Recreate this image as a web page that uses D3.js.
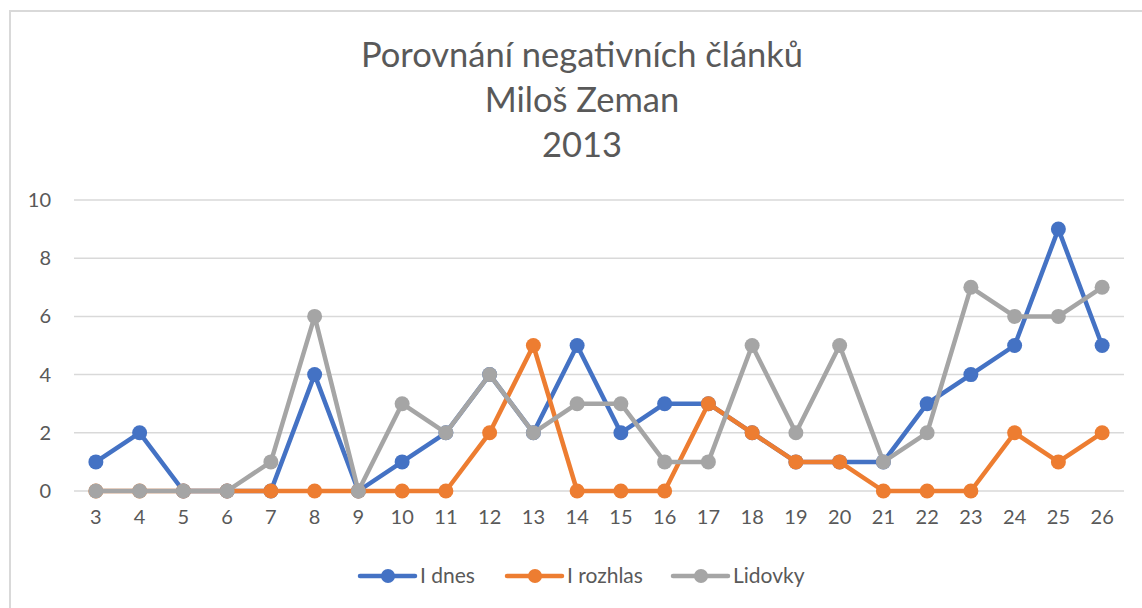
<!DOCTYPE html>
<html>
<head>
<meta charset="utf-8">
<script src="https://cdn.jsdelivr.net/npm/d3@7"></script>
<style>
  html, body { margin: 0; padding: 0; background: #fff; }
  svg { display: block; font-family: Lato, "Open Sans", sans-serif; }
</style>
</head>
<body>
<svg id="chart" width="1142" height="608"></svg>
<script>
const categories = ["3","4","5","6","7","8","9","10","11","12","13","14","15","16","17","18","19","20","21","22","23","24","25","26"];
const idnes    = [1,2,0,0,0,4,0,1,2,4,2,5,2,3,3,2,1,1,1,3,4,5,9,5];
const irozhlas = [0,0,0,0,0,0,0,0,0,2,5,0,0,0,3,2,1,1,0,0,0,2,1,2];
const lidovky  = [0,0,0,0,1,6,0,3,2,4,2,3,3,1,1,5,2,5,1,2,7,6,6,7];
const seriesNames = ["I dnes", "I rozhlas", "Lidovky"];
const seriesColors = ["#4472C4", "#ED7D31", "#A5A5A5"];
const titleLines = ["Porovnání negativních článků", "Miloš Zeman", "2013"];
const yTicks = [0, 2, 4, 6, 8, 10];

const series = [idnes, irozhlas, lidovky].map((vals, i) => ({
  name: seriesNames[i], color: seriesColors[i], values: vals
}));

const svg = d3.select("#chart");
const W = 1142, H = 608;

// chart border
svg.append("path")
  .attr("d", `M10,${H} L10,11 L${W},11`)
  .attr("fill", "none").attr("stroke", "#d9d9d9").attr("stroke-width", 2);

const x = d3.scaleBand().domain(categories).range([74, 1124]);
const y = d3.scaleLinear().domain([0, 10]).range([491, 200]);

// title
svg.append("g").selectAll("text").data(titleLines).join("text")
  .attr("x", 582).attr("y", (d, i) => 67 + i * 45)
  .attr("text-anchor", "middle")
  .attr("fill", "#595959")
  .attr("font-size", 34.5)
  .text(d => d);

// gridlines
svg.append("g").selectAll("line").data(yTicks).join("line")
  .attr("x1", 74).attr("x2", 1124)
  .attr("y1", d => y(d)).attr("y2", d => y(d))
  .attr("stroke", "#d9d9d9").attr("stroke-width", 1.5);

// y axis
const yAxis = d3.axisLeft(y).tickValues(yTicks).tickSize(0).tickPadding(0);
const yg = svg.append("g").attr("transform", "translate(51,0)").call(yAxis);
yg.select(".domain").remove();
yg.selectAll("text").attr("fill", "#595959").attr("font-size", 20).attr("font-family", "Lato, sans-serif");

// x axis
const xAxis = d3.axisBottom(x).tickSize(0).tickPadding(0);
const xg = svg.append("g").attr("transform", "translate(0,510)").call(xAxis);
xg.select(".domain").remove();
xg.selectAll("text").attr("fill", "#595959").attr("font-size", 20).attr("font-family", "Lato, sans-serif");

const cx = c => x(c) + x.bandwidth() / 2;
const line = d3.line().x((d, i) => cx(categories[i])).y(d => y(d));

series.forEach(s => {
  const g = svg.append("g");
  g.append("path").datum(s.values)
    .attr("d", line)
    .attr("fill", "none").attr("stroke", s.color)
    .attr("stroke-width", 4.5).attr("stroke-linejoin", "round").attr("stroke-linecap", "round");
  g.selectAll("circle").data(s.values).join("circle")
    .attr("cx", (d, i) => cx(categories[i])).attr("cy", d => y(d))
    .attr("r", 7.5).attr("fill", s.color);
});

// legend
const legendX = [360, 507, 673];
const lg = svg.append("g");
series.forEach((s, i) => {
  const gx = legendX[i], gy = 576;
  lg.append("line").attr("x1", gx).attr("x2", gx + 55).attr("y1", gy).attr("y2", gy)
    .attr("stroke", s.color).attr("stroke-width", 4.5).attr("stroke-linecap", "round");
  lg.append("circle").attr("cx", gx + 28).attr("cy", gy).attr("r", 7).attr("fill", s.color);
  lg.append("text").attr("x", gx + 60).attr("y", gy + 7)
    .attr("fill", "#595959").attr("font-size", 21).text(s.name);
});
</script>
</body>
</html>
